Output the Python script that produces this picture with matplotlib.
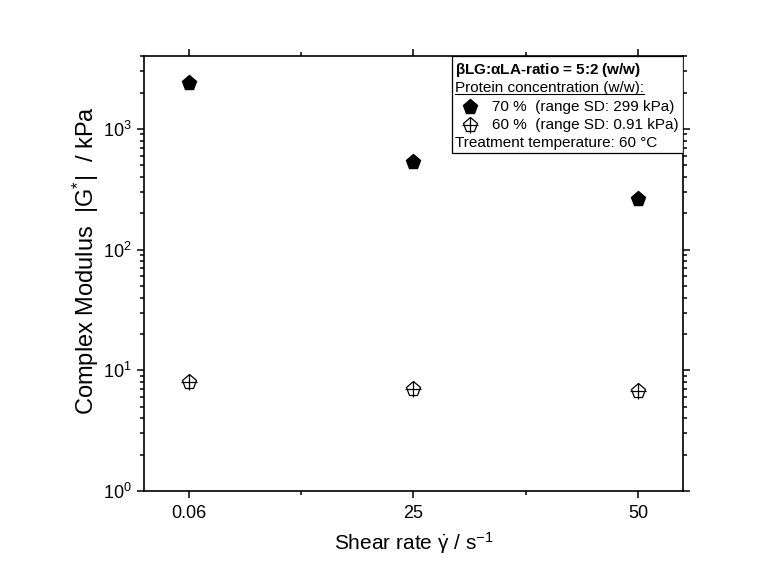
import matplotlib
matplotlib.use('Agg')
import matplotlib.pyplot as plt
from matplotlib.patches import Rectangle
from matplotlib.ticker import LogLocator, NullFormatter
import numpy as np

plt.rcParams.update({'font.family': 'Liberation Sans'})
plt.rcParams.update({'mathtext.fontset': 'custom'})
plt.rcParams.update({'mathtext.rm': 'Liberation Sans'})
plt.rcParams.update({'mathtext.it': 'Liberation Sans:italic'})
plt.rcParams.update({'mathtext.bf': 'Liberation Sans:bold'})
plt.rcParams.update({'mathtext.default': 'regular'})

#%% data
shear_rate = [0.06, 25, 50]
x_labels = ['0.06', '25', '50']
g_70 = [2420, 533, 264]
g_60 = [7.96, 6.97, 6.7]

leg_title = r'$\mathbf{\beta}$LG:$\mathbf{\alpha}$LA-ratio = 5:2 (w/w)'
leg_sub = 'Protein concentration (w/w):'
leg_70 = '70 %  (range SD: 299 kPa)'
leg_60 = '60 %  (range SD: 0.91 kPa)'
leg_temp = 'Treatment temperature: 60 °C'

#%% plot
fig = plt.figure(figsize=(7.65, 5.79), dpi=100)
ax = fig.add_axes([0.188, 0.152, 0.705, 0.751])

ax.plot(shear_rate, g_70, ls='none', marker='p', ms=11, mfc='k', mec='k')
ax.plot(shear_rate, g_60, ls='none', marker='p', ms=11, mfc='white', mec='k', mew=0.9)
ax.plot(shear_rate, g_60, ls='none', marker='+', ms=11, mec='k', mew=0.9)

ax.set_yscale('log')
ax.set_ylim([1, 4000])
ax.set_xlim([-5, 55])
ax.set_xticks(shear_rate)
ax.set_xticklabels(x_labels)
ax.set_xticks([12.5, 37.5], minor=True)
ax.yaxis.set_major_locator(LogLocator(base=10, numticks=10))
ax.yaxis.set_minor_locator(LogLocator(base=10, subs=np.arange(2, 10), numticks=20))
ax.yaxis.set_minor_formatter(NullFormatter())

for sp in ax.spines.values():
    sp.set_linewidth(1.2)
ax.tick_params(which='both', direction='out', top=True, right=True, width=1.1, labelsize=13)
ax.tick_params(which='major', length=5)
ax.tick_params(which='minor', length=3)
ax.tick_params(axis='x', pad=5)

ax.set_xlabel(r'Shear rate $\dot{\gamma}$ / s$^{-1}$', fontsize=15, labelpad=6)
ax.set_ylabel(r'Complex Modulus  |G$^{*}$|  / kPa', fontsize=17, va='center')
ax.yaxis.set_label_coords(-0.108, 0.53)

# legend box
ax.add_patch(Rectangle((0.571, 0.777), 0.429, 0.223, transform=ax.transAxes,
                       fill=True, fc='white', ec='k', lw=0.9, zorder=5))
fs = 11
ax.text(0.577, 0.968, leg_title, transform=ax.transAxes, fontsize=fs,
        fontweight='bold', va='center', zorder=6)
t2 = ax.text(0.577, 0.926, leg_sub, transform=ax.transAxes, fontsize=fs,
             va='center', zorder=6)
ax.plot([0.605], [0.883], transform=ax.transAxes, marker='p', ms=11, mfc='k',
        mec='k', ls='none', zorder=6, clip_on=False)
ax.text(0.646, 0.883, leg_70, transform=ax.transAxes, fontsize=fs, va='center', zorder=6)
ax.plot([0.605], [0.841], transform=ax.transAxes, marker='p', ms=11, mfc='white',
        mec='k', mew=0.9, ls='none', zorder=6, clip_on=False)
ax.plot([0.605], [0.841], transform=ax.transAxes, marker='+', ms=11, mec='k',
        mew=0.9, ls='none', zorder=6, clip_on=False)
ax.text(0.646, 0.841, leg_60, transform=ax.transAxes, fontsize=fs, va='center', zorder=6)
ax.text(0.577, 0.800, leg_temp, transform=ax.transAxes, fontsize=fs, va='center', zorder=6)

# underline for the sub heading
r = fig.canvas.get_renderer()
bb = t2.get_window_extent(renderer=r).transformed(ax.transAxes.inverted())
ax.plot([bb.x0, bb.x1], [bb.y0 + 0.003, bb.y0 + 0.003], transform=ax.transAxes,
        color='k', lw=0.8, zorder=6, clip_on=False)

plt.savefig('out.png', dpi=100)
